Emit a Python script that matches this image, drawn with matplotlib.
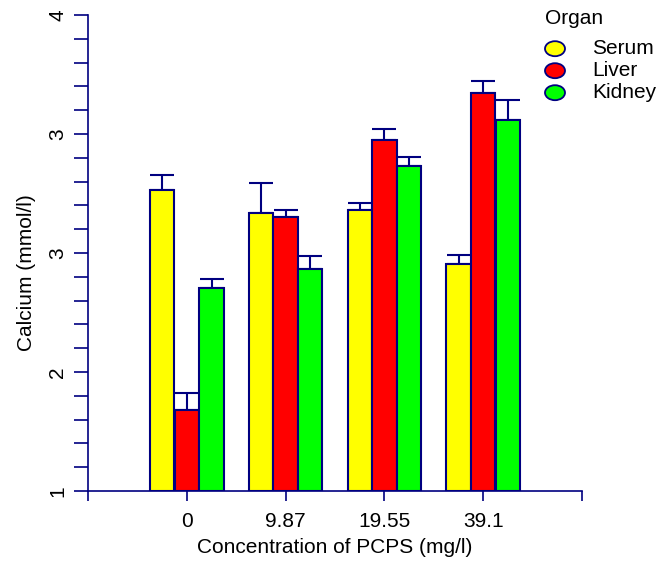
import numpy as np
import matplotlib
matplotlib.use("Agg")
import matplotlib.pyplot as plt
from matplotlib.patches import Ellipse

plt.rcParams['font.family'] = ['Liberation Sans', 'DejaVu Sans']

# data
concentrations = ["0", "9.87", "19.55", "39.1"]
organs = ["Serum", "Liver", "Kidney"]
serum = [2.90, 2.75, 2.77, 2.43]
liver = [1.51, 2.73, 3.21, 3.51]
kidney = [2.28, 2.40, 3.05, 3.34]
serum_err = [0.09, 0.19, 0.046, 0.059]
liver_err = [0.11, 0.042, 0.071, 0.074]
kidney_err = [0.056, 0.084, 0.057, 0.122]
ytick_vals = [1, 1.75, 2.5, 3.25, 4]
ytick_labels = ["1", "2", "3", "3", "4"]

colors = ["#FFFF00", "#FF0000", "#00FF00"]
navy = "#000080"
fs = 15
W, H = 669, 563

fig = plt.figure(figsize=(W/100, H/100), dpi=100)
ax = fig.add_axes([88/W, 72/H, 494/W, 476/H])

x = np.arange(len(concentrations))
width = 0.245
offsets = [-0.25, 0, 0.25]
series = [serum, liver, kidney]
errs = [serum_err, liver_err, kidney_err]
for vals, err, off, col in zip(series, errs, offsets, colors):
    vals = np.array(vals)
    ax.bar(x + off, vals - 1, width, bottom=1, color=col, edgecolor=navy,
           linewidth=1.5, zorder=2)
    ax.errorbar(x + off, vals, yerr=[np.zeros(len(vals)), err], fmt='none',
                ecolor=navy, elinewidth=1.5, capsize=8.8, capthick=1.5,
                zorder=1)

ax.set_xlim(-1, 4)
ax.set_ylim(1, 4)
ax.set_xticks([-1, 0, 1, 2, 3, 4])
ax.set_xticklabels([""] + concentrations + [""], fontsize=fs)
ax.set_yticks(ytick_vals)
ax.set_yticklabels(ytick_labels, fontsize=fs, rotation=90, va='center')
ax.set_yticks(np.arange(1, 4.01, 0.15), minor=True)

for s in ["top", "right"]:
    ax.spines[s].set_visible(False)
for s in ["left", "bottom"]:
    ax.spines[s].set_color(navy)
    ax.spines[s].set_linewidth(1.2)
ax.tick_params(axis='y', which='both', direction='out', length=10, width=1.2,
               color=navy, pad=5)
ax.tick_params(axis='x', direction='out', length=7, width=1.2, color=navy,
               pad=8)

ax.set_xlabel("Concentration of PCPS (mg/l)", fontsize=fs, labelpad=5)
ax.set_ylabel("Calcium (mmol/l)", fontsize=fs)
ax.yaxis.set_label_coords(-0.106, 0.458)

# legend drawn by hand, ellipse keys
fig.text(545/W, 1 - 18/H, "Organ", fontsize=fs, ha='left', va='center')
for i, (lab, col) in enumerate(zip(organs, colors)):
    yc = 1 - (48.7 + 22*i)/H
    fig.add_artist(Ellipse((555/W, yc), 20/W, 15/H, transform=fig.transFigure,
                           facecolor=col, edgecolor=navy, linewidth=1.3))
    fig.text(592/W, yc, lab, fontsize=fs, ha='left', va='center')

fig.savefig("out.png", dpi=100)
